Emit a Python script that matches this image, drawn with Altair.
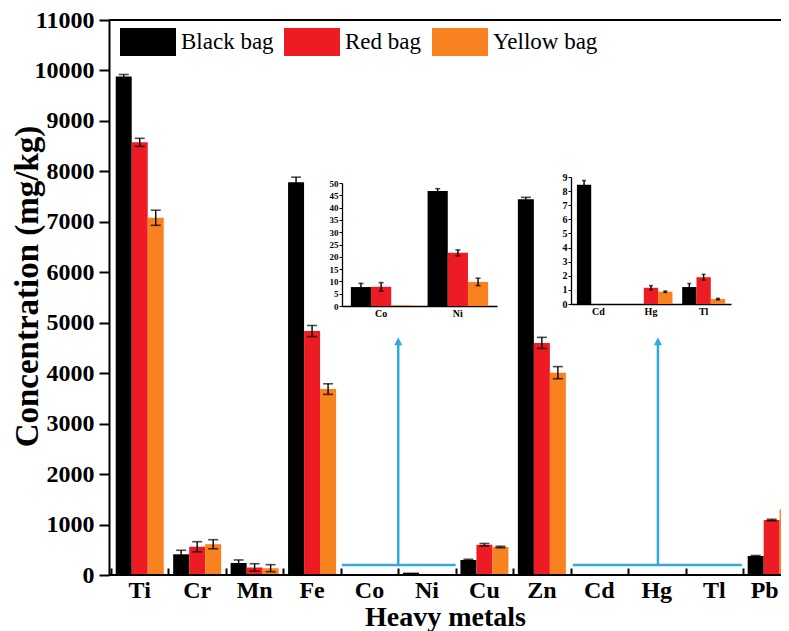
import altair as alt
import pandas as pd

# ---------------- data ----------------
metals = ["Ti", "Cr", "Mn", "Fe", "Co", "Ni", "Cu", "Zn", "Cd", "Hg", "Tl", "Pb"]
bags = ["Black bag", "Red bag", "Yellow bag"]
colors = ["#000000", "#ed1c24", "#f7821f"]

black_vals = [9880, 410, 238, 7785, 7.7, 46.7, 297, 7445, 8.45, 0.0, 1.2, 376]
black_err = [40, 80, 60, 100, 1.5, 1.0, 15, 40, 0.3, 0.0, 0.25, 10]
red_vals = [8575, 560, 150, 4835, 7.8, 21.6, 600, 4600, 0.0, 1.15, 1.9, 1090]
red_err = [80, 100, 73, 110, 1.7, 1.2, 25, 110, 0.0, 0.15, 0.2, 15]
yellow_vals = [7080, 610, 135, 3685, 0.3, 9.8, 555, 4010, 0.0, 0.87, 0.35, 1300]
yellow_err = [150, 90, 70, 105, 0.0, 1.5, 15, 120, 0.0, 0.05, 0.05, 15]

inset1_metals = ["Co", "Ni"]
inset2_metals = ["Cd", "Hg", "Tl"]
main_ticks = list(range(0, 11001, 1000))
inset1_ticks = list(range(0, 51, 5))
inset2_ticks = list(range(0, 10))
frame_lines = [0, 11000]

# arrows (x in category-index units, y in mg/kg)
arrow_x = [5.0, 9.52]
arrow_left = [4.02, 8.04]
arrow_right = [6.0, 10.98]
arrow_base = [198, 198]
arrow_top = [4634, 4634]
boundaries = list(range(13))

rows = []
for bag, vals, errs in zip(bags, [black_vals, red_vals, yellow_vals],
                           [black_err, red_err, yellow_err]):
    for m, v, e in zip(metals, vals, errs):
        rows.append({"metal": m, "bag": bag, "value": v, "err": e})
df = pd.DataFrame(rows)
arrow_df = pd.DataFrame({"ax": arrow_x, "left": arrow_left, "right": arrow_right,
                         "base": arrow_base, "top": arrow_top})

# ---------------- layout ----------------
SERIF = "Liberation Serif"
W, H = 672, 555
STEP = 57.45
X0 = 2
BLUE = "#35a8e0"


def group(data, mlist, xscale, yscale, xaxis, yaxis, offpad, cap, legend,
          err_min):
    base = alt.Chart(data)
    xo = alt.XOffset("bag:N", sort=bags,
                     scale=alt.Scale(paddingOuter=offpad, paddingInner=0))
    bars = base.mark_bar().encode(
        x=alt.X("metal:N", sort=mlist, scale=xscale, axis=xaxis),
        xOffset=xo,
        y=alt.Y("value:Q", scale=yscale, axis=yaxis),
        color=alt.Color("bag:N", scale=alt.Scale(domain=bags, range=colors),
                        legend=legend),
    )
    eb = base.transform_filter(f"datum.err > 0 && datum.value > {err_min}") \
        .transform_calculate(lo="datum.value - datum.err",
                             hi="datum.value + datum.err")
    rule = eb.mark_rule(color="black", strokeWidth=1.4).encode(
        x=alt.X("metal:N", sort=mlist, scale=xscale, axis=None), xOffset=xo,
        y=alt.Y("lo:Q", scale=yscale, axis=None), y2="hi:Q")
    caps = eb.transform_fold(["lo", "hi"], as_=["which", "yy"]).mark_tick(
        orient="horizontal", color="black", size=cap, thickness=1.6).encode(
        x=alt.X("metal:N", sort=mlist, scale=xscale, axis=None), xOffset=xo,
        y=alt.Y("yy:Q", scale=yscale, axis=None))
    return [bars, rule, caps]


# main chart
main_x = alt.Scale(domain=metals, range=[X0, X0 + 12 * STEP],
                   paddingInner=0, paddingOuter=0)
main_y = alt.Scale(domain=[0, 11000], nice=False)
main_xaxis = alt.Axis(orient="bottom", title="Heavy metals", labelAngle=0,
                      domain=False, ticks=False, labelPadding=3,
                      labelOffset={"condition": {"test": "datum.label == 'Pb'",
                                                 "value": -7},
                                   "value": 0},
                      labelFont=SERIF, labelFontSize=24,
                      labelFontWeight="bold", labelColor="black",
                      titleFont=SERIF, titleFontSize=28,
                      titleFontWeight="bold", titleColor="black",
                      titleX=336, titleY=50, titleBaseline="alphabetic",
                      titleAlign="center", grid=False)
main_yaxis = alt.Axis(orient="left", title="Concentration (mg/kg)",
                      values=main_ticks, format="d", domainColor="black",
                      domainWidth=2, tickColor="black", tickWidth=2,
                      tickSize=10, labelPadding=5, labelFont=SERIF,
                      labelFontSize=24, labelFontWeight="bold",
                      labelColor="black", titleFont=SERIF, titleFontSize=33,
                      titleFontWeight="bold", titleColor="black",
                      titleX=-82, titleY=266, titleAngle=270,
                      titleAlign="center", titleBaseline="middle",
                      grid=False, labelOverlap=False)
legend = alt.Legend(title=None, orient="none", legendX=11, legendY=-6,
                    direction="horizontal", symbolType="M-1,-0.5H1V0.5H-1Z",
                    symbolSize=3136, symbolStrokeWidth=0, symbolOpacity=1,
                    labelFont=SERIF, labelFontSize=23, labelFontWeight="normal",
                    labelColor="black", labelOffset=5, columnPadding=10,
                    padding=0)
main_layers = group(df, metals, main_x, main_y, main_xaxis, main_yaxis,
                    0.295, 10, legend, 100)
frame = alt.Chart(pd.DataFrame({"v": frame_lines})).mark_rule(
    color="black", strokeWidth=2).encode(
    y=alt.Y("v:Q", scale=main_y, axis=None))


def inset_axes(ticks, xoff, yoff, lsize):
    xa = alt.Axis(orient="bottom", offset=yoff, title=None, labelAngle=0,
                  domainColor="black", domainWidth=1.3, ticks=False,
                  labelPadding=2, labelFont=SERIF, labelFontSize=10,
                  labelFontWeight="bold", labelColor="black", grid=False)
    ya = alt.Axis(orient="left", offset=xoff, title=None, values=ticks,
                  domainColor="black", domainWidth=1.3, tickColor="black",
                  tickWidth=1, tickSize=3, labelPadding=1, labelFont=SERIF,
                  labelFontSize=lsize, labelFontWeight="bold",
                  labelColor="black", grid=False, labelOverlap=False)
    return xa, ya


# inset 1: Co, Ni  (plot top is at page y=20, plot left at page x=109)
in1_df = df[df.metal.isin(inset1_metals)]
in1_x = alt.Scale(domain=inset1_metals, range=[233, 388], paddingInner=0,
                  paddingOuter=0.01)
in1_y = alt.Scale(domain=[0, 50], range=[286, 163], nice=False)
xa1, ya1 = inset_axes(inset1_ticks, -233, -(H - 286), 9)
in1_layers = group(in1_df, inset1_metals, in1_x, in1_y, xa1, ya1, 0.4, 5,
                   None, 0)

# inset 2: Cd, Hg, Tl
in2_df = df[df.metal.isin(inset2_metals)]
in2_x = alt.Scale(domain=inset2_metals, range=[462, 622], paddingInner=0,
                  paddingOuter=0.02)
in2_y = alt.Scale(domain=[0, 9], range=[284, 157], nice=False)
xa2, ya2 = inset_axes(inset2_ticks, -462, -(H - 284), 10)
in2_layers = group(in2_df, inset2_metals, in2_x, in2_y, xa2, ya2, 0.34, 4,
                   None, 0)

# annotation arrows
ann_x = alt.Scale(domain=[0, 12], range=[X0, X0 + 12 * STEP], nice=False,
                  zero=False)
ann_y = alt.Scale(domain=[0, 11000], nice=False)
abase = alt.Chart(arrow_df)
hline = abase.mark_rule(color=BLUE, strokeWidth=2.5).encode(
    x=alt.X("left:Q", scale=ann_x, axis=None), x2="right:Q",
    y=alt.Y("base:Q", scale=ann_y, axis=None))
vline = abase.mark_rule(color=BLUE, strokeWidth=2.5).encode(
    x=alt.X("ax:Q", scale=ann_x, axis=None),
    y=alt.Y("base:Q", scale=ann_y, axis=None), y2="top:Q")
head = abase.mark_point(shape="M-1,1L0,-1L1,1Z", size=64, filled=True,
                        color=BLUE, opacity=1).encode(
    x=alt.X("ax:Q", scale=ann_x, axis=None),
    y=alt.Y("top:Q", scale=ann_y, axis=None))

# inward ticks on the category axis
tick_layer = alt.Chart(pd.DataFrame({"k": boundaries})).mark_point(
    opacity=0).encode(
    x=alt.X("k:Q", scale=ann_x,
            axis=alt.Axis(orient="top", offset=-H, values=boundaries,
                          labels=False, domain=False, ticks=True, tickSize=7,
                          tickWidth=2, tickColor="black", grid=False,
                          title=None)))

all_layers = main_layers + [frame] + in1_layers + in2_layers + \
    [hline, vline, head, tick_layer]

chart = alt.layer(*all_layers).resolve_scale(
    x="independent", y="independent", xOffset="independent"
).properties(
    width=W, height=H,
    autosize=alt.AutoSizeParams(type="none"),
    padding={"left": 101, "top": 12, "right": 0, "bottom": 56},
).configure_view(stroke=None).configure_legend(
    labelFont=SERIF, labelFontSize=23, labelColor="black"
).configure(background="white")

chart.save("out.html", embed_options={"renderer": "svg", "actions": False})
